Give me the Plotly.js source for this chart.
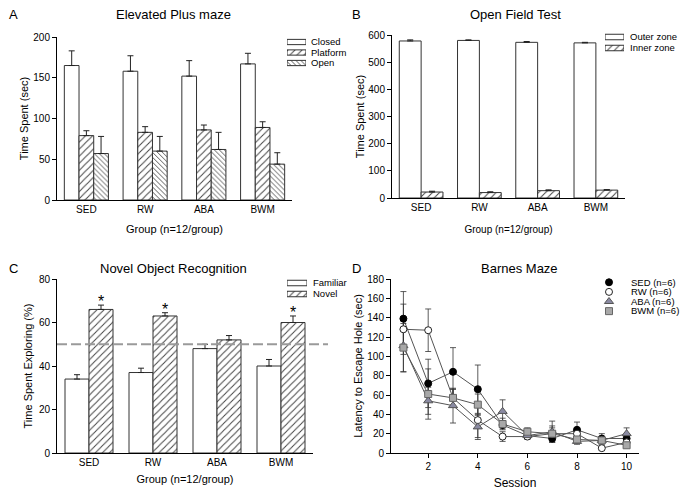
<!DOCTYPE html>
<html><head><meta charset="utf-8">
<script src="https://cdn.plot.ly/plotly-3.0.1.min.js"></script>
<style>html,body{margin:0;padding:0;background:#fff}#chart{width:684px;height:498px}</style>
</head><body><div id="chart"></div>
<script>
// ---------- data ----------
const groups = ['SED', 'RW', 'ABA', 'BWM'];

// A: Elevated Plus maze
const epmClosed = [165, 158, 152, 167];
const epmClosedErr = [18, 19, 19, 13];
const epmPlatform = [79, 83, 86, 89];
const epmPlatformErr = [6, 7, 6, 7];
const epmOpen = [57, 60, 62, 44];
const epmOpenErr = [21, 18, 21, 14];
const epmNames = ['Closed', 'Platform', 'Open'];

// B: Open Field Test
const ofOuter = [578, 580, 573, 571];
const ofOuterErr = [4, 2, 3, 2];
const ofInner = [22, 20, 27, 29];
const ofInnerErr = [3, 3, 3, 2];
const ofNames = ['Outer zone', 'Inner zone'];

// C: Novel Object Recognition
const norFamiliar = [34, 37, 48, 40];
const norFamiliarErr = [2, 2, 2, 3];
const norNovel = [66, 63, 52, 60];
const norNovelErr = [2, 1.5, 2, 3];
const norSig = ['*', '*', '', '*'];
const norNames = ['Familiar', 'Novel'];
const chanceLevel = 50;

// D: Barnes Maze
const sessions = [1, 2, 3, 4, 5, 6, 7, 8, 9, 10];
const bmSED = [139, 72, 84, 66, 29, 18, 15, 24, 15, 15];
const bmSEDErr = [28, 25, 25, 25, 4, 3, 4, 8, 5, 4];
const bmRW = [128, 127, 57, 34, 17, 17, 20, 20, 5, 11];
const bmRWErr = [26, 22, 9, 18, 5, 3, 8, 4, 2, 3];
const bmABA = [111, 54, 49, 27, 43, 18, 22, 12, 13, 20];
const bmABAErr = [27, 14, 18, 13, 12, 3, 11, 3, 4, 6];
const bmBWM = [109, 61, 57, 50, 30, 22, 20, 14, 13, 8];
const bmBWMErr = [25, 26, 9, 11, 6, 4, 6, 3, 3, 2];
const bmNames = ['SED (n=6)', 'RW (n=6)', 'ABA (n=6)', 'BWM (n=6)'];

// ---------- helpers ----------
const W = 684, H = 498;
const px = v => v / W;
const py = v => 1 - v / H;
const FONT = 'Liberation Sans, Arial, sans-serif';

const hatchA = {shape: '/', size: 5, solidity: 0.2, fgcolor: '#444', bgcolor: 'white', fillmode: 'replace'};
const hatchB = {shape: '\\', size: 3.5, solidity: 0.25, fgcolor: '#444', bgcolor: 'white', fillmode: 'replace'};
const noHatch = {shape: '', fgcolor: '#444', bgcolor: 'white'};

function upErr(err) {
  return {type: 'data', symmetric: false, array: err, arrayminus: err.map(() => 0),
          color: '#222', thickness: 1, width: 3};
}
function barTrace(name, y, err, xa, ya, pat) {
  return {type: 'bar', name, x: groups, y, xaxis: xa, yaxis: ya,
          marker: {color: 'white', line: {color: '#333', width: 1}, pattern: pat},
          error_y: upErr(err), hoverinfo: 'skip'};
}
// key (legend) drawn as a small horizontal-bar subplot, one swatch per series name
function keyTrace(names, pats, xa, ya) {
  return {type: 'bar', orientation: 'h', y: names, x: names.map(() => 1), xaxis: xa, yaxis: ya,
          width: 0.5, hoverinfo: 'skip',
          marker: {color: 'white', line: {color: '#333', width: 1},
                   pattern: {shape: pats.map(p => p.shape), size: pats.map(p => p.size || 5),
                             solidity: pats.map(p => p.solidity || 0.2), fgcolor: '#444', bgcolor: 'white', fillmode: 'replace'}}};
}

const traces = [
  barTrace(epmNames[0], epmClosed, epmClosedErr, 'x', 'y', noHatch),
  barTrace(epmNames[1], epmPlatform, epmPlatformErr, 'x', 'y', hatchA),
  barTrace(epmNames[2], epmOpen, epmOpenErr, 'x', 'y', hatchB),
  barTrace(ofNames[0], ofOuter, ofOuterErr, 'x2', 'y2', noHatch),
  barTrace(ofNames[1], ofInner, ofInnerErr, 'x2', 'y2', hatchA),
  barTrace(norNames[0], norFamiliar, norFamiliarErr, 'x3', 'y3', noHatch),
  barTrace(norNames[1], norNovel, norNovelErr, 'x3', 'y3', hatchA),
  keyTrace(epmNames, [noHatch, hatchA, hatchB], 'x5', 'y5'),
  keyTrace(ofNames, [noHatch, hatchA], 'x6', 'y6'),
  keyTrace(norNames, [noHatch, hatchA], 'x7', 'y7')
];

const bmSeries = [
  {name: bmNames[0], y: bmSED, e: bmSEDErr, m: {symbol: 'circle', size: 7, color: 'black', line: {color: 'black', width: 1}}},
  {name: bmNames[1], y: bmRW, e: bmRWErr, m: {symbol: 'circle', size: 7, color: 'white', line: {color: '#222', width: 1}}},
  {name: bmNames[2], y: bmABA, e: bmABAErr, m: {symbol: 'triangle-up', size: 8, color: '#8a8aa2', line: {color: '#555', width: 1}}},
  {name: bmNames[3], y: bmBWM, e: bmBWMErr, m: {symbol: 'square', size: 7, color: '#a8a8a8', line: {color: '#666', width: 1}}}
];
bmSeries.forEach(s => traces.push({
  type: 'scatter', mode: 'lines', x: sessions, y: s.y, xaxis: 'x4', yaxis: 'y4',
  line: {color: '#555', width: 1}, hoverinfo: 'skip',
  error_y: {type: 'data', array: s.e, color: '#333', thickness: 0.8, width: 3}
}));
bmSeries.forEach(s => traces.push({
  type: 'scatter', mode: 'markers', name: s.name, x: sessions, y: s.y, xaxis: 'x4', yaxis: 'y4',
  marker: s.m, hoverinfo: 'skip'
}));
// key for D
bmSeries.forEach(s => traces.push({
  type: 'scatter', mode: 'markers', x: [0], y: [s.name], xaxis: 'x8', yaxis: 'y8',
  marker: s.m, hoverinfo: 'skip'
}));

// ---------- layout ----------
function xAx(d0, d1, anchor, titleText, standoff, extra) {
  return Object.assign({
    domain: [px(d0), px(d1)], anchor, showline: true, linecolor: 'black', linewidth: 1,
    showgrid: false, zeroline: false, ticks: '', tickfont: {size: 10, color: 'black'},
    title: {text: titleText, font: {size: 11, color: 'black'}, standoff}, automargin: false, fixedrange: true
  }, extra || {});
}
function yAx(top, bottom, anchor, titleText, range, dtick, standoff, extra) {
  return Object.assign({
    domain: [py(bottom), py(top)], anchor, range, dtick, showline: true, linecolor: 'black', linewidth: 1,
    showgrid: false, zeroline: false, ticks: 'outside', ticklen: 4, tickcolor: 'black',
    tickfont: {size: 10, color: 'black'},
    title: {text: titleText, font: {size: 11, color: 'black'}, standoff}, automargin: false, fixedrange: true
  }, extra || {});
}
function keyX(x0, x1, anchor, range) {
  return {domain: [px(x0), px(x1)], anchor, range, visible: false, fixedrange: true};
}
function keyY(top, bottom, anchor, names, standoff, fs) {
  return {domain: [py(bottom), py(top)], anchor, type: 'category', autorange: 'reversed',
          side: 'right', showline: false, showgrid: false, zeroline: false, ticks: '',
          tickmode: 'array', tickvals: names, ticktext: names,
          ticklabelstandoff: standoff, tickfont: {size: fs, color: 'black'}, fixedrange: true};
}
function label(x, y, text, size) {
  return {xref: 'paper', yref: 'paper', x: px(x), y: py(y), text, showarrow: false,
          xanchor: 'center', yanchor: 'middle', font: {size, color: 'black'}};
}

const annotations = [
  label(173, 14, 'Elevated Plus maze', 13),
  label(515, 14, 'Open Field Test', 13),
  label(173, 268, 'Novel Object Recognition', 13),
  label(519, 268, 'Barnes Maze', 13),
  label(13, 14, 'A', 13),
  label(357, 14, 'B', 13),
  label(13, 268, 'C', 13),
  label(357, 268, 'D', 13)
];
groups.forEach((g, i) => {
  if (norSig[i]) annotations.push({
    xref: 'x3', yref: 'y3', x: g, y: norNovel[i] + norNovelErr[i], text: norSig[i],
    showarrow: false, xanchor: 'center', yanchor: 'bottom', xshift: 12, yshift: -7,
    font: {size: 16, color: 'black'}
  });
});

const layout = {
  width: W, height: H, margin: {l: 0, r: 0, t: 0, b: 0},
  paper_bgcolor: 'white', plot_bgcolor: 'rgba(0,0,0,0)',
  font: {family: FONT, color: 'black'},
  showlegend: false,
  barmode: 'group', bargap: 0.25, bargroupgap: 0,
  xaxis: xAx(57, 292, 'y', 'Group (n=12/group)', 11, {range: [-0.5, 3.5]}),
  yaxis: yAx(37, 200, 'x', 'Time Spent (sec)', [0, 200], 50, 2),
  xaxis2: xAx(392, 625, 'y2', 'Group (n=12/group)', 13, {range: [-0.5, 3.5], title: {text: 'Group (n=12/group)', font: {size: 10, color: 'black'}, standoff: 13}}),
  yaxis2: yAx(35, 198, 'x2', 'Time Spent (sec)', [0, 600], 100, 1),
  xaxis3: xAx(57, 313, 'y3', 'Group (n=12/group)', 8, {range: [-0.5, 3.5]}),
  yaxis3: yAx(279, 453, 'x3', 'Time Spent Exploring (%)', [0, 80], 20, 4),
  xaxis4: xAx(391, 639, 'y4', 'Session', 7, {range: [0.5, 10.5], dtick: 2, tick0: 0, ticks: 'outside', ticklen: 4, tickcolor: 'black', title: {text: 'Session', font: {size: 12, color: 'black'}, standoff: 7}}),
  yaxis4: yAx(279, 453, 'x4', 'Latency to Escape Hole (sec)', [0, 180], 20, 2),
  xaxis5: keyX(287, 306, 'y5', [0, 1]),
  yaxis5: keyY(36.75, 68.25, 'x5', epmNames, 4, 9.5),
  xaxis6: keyX(605, 624, 'y6', [0, 1]),
  yaxis6: keyY(31.5, 53.5, 'x6', ofNames, 5, 9.5),
  xaxis7: keyX(287, 307, 'y7', [0, 1]),
  yaxis7: keyY(277.5, 299.5, 'x7', norNames, 5, 9.5),
  xaxis8: keyX(603, 615, 'y8', [-1, 1]),
  yaxis8: keyY(275.8, 317.6, 'x8', bmNames, 15, 9.5),
  shapes: [{type: 'line', xref: 'paper', yref: 'y3', x0: px(57), x1: px(328), y0: chanceLevel, y1: chanceLevel,
            line: {color: '#9a9a9a', width: 2, dash: '10px,4px'}}],
  annotations
};

Plotly.newPlot('chart', traces, layout, {staticPlot: true, displayModeBar: false});
</script>
</body></html>
